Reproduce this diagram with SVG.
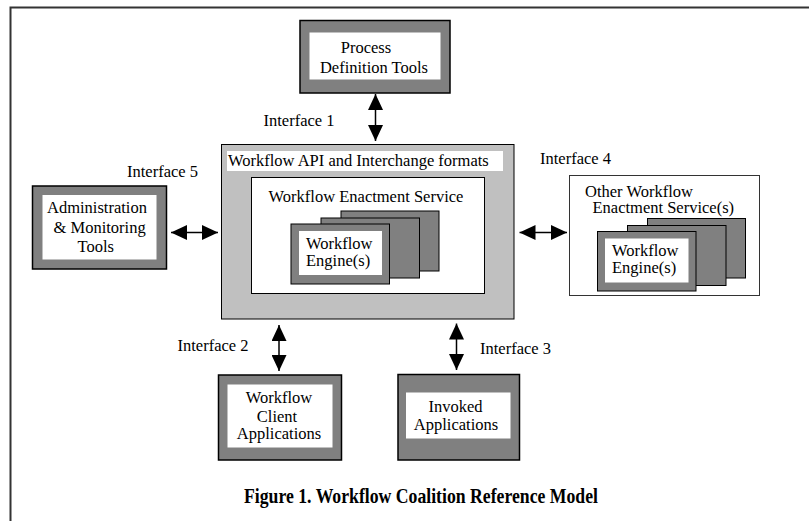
<svg xmlns="http://www.w3.org/2000/svg" width="809" height="521" viewBox="0 0 809 521">
<style>
text{font-family:"Liberation Serif","Times New Roman","DejaVu Serif",serif;font-size:16.5px;fill:#000}
.c{text-anchor:middle}
.tool{fill:#808080;stroke:#000;stroke-width:1.5}
.card{fill:#808080;stroke:#000;stroke-width:1}
.win{fill:#fff;stroke:none}
.conn{stroke:#000;stroke-width:1.5;fill:none;marker-start:url(#ah);marker-end:url(#ah)}
.cap{font-weight:bold;font-size:21px}
</style>
<defs>
<marker id="ah" markerUnits="userSpaceOnUse" viewBox="0 0 16 15" refX="16" refY="7.5" markerWidth="16" markerHeight="15" orient="auto-start-reverse">
<path d="M0,0 L16,7.5 L0,15 z" fill="#000"/>
</marker>
</defs>
<rect width="809" height="521" fill="#fff"/>
<rect id="frame" x="10.5" y="7.5" width="820" height="540" fill="none" stroke="#333" stroke-width="2"/>

<g id="process-definition-tools">
<rect class="tool" x="300" y="20.5" width="150" height="72.5"/>
<rect class="win" x="309.5" y="32.5" width="131" height="47"/>
<text class="c" x="366" y="53">Process</text>
<text class="c" x="374" y="73">Definition Tools</text>
</g>

<g id="workflow-api">
<rect x="221.5" y="144.5" width="292.5" height="174.5" fill="#c0c0c0" stroke="#000" stroke-width="1"/>
<rect class="win" x="227" y="151" width="276" height="20"/>
<text x="228" y="165.5">Workflow API and Interchange formats</text>
</g>

<g id="enactment-service">
<rect x="251.5" y="177.5" width="233" height="116" fill="#fff" stroke="#000" stroke-width="1"/>
<text class="c" x="366" y="202">Workflow Enactment Service</text>
</g>

<g id="workflow-engines">
<rect class="card" x="341" y="211" width="98" height="60"/>
<rect class="card" x="321" y="218" width="98.5" height="60"/>
<rect class="card" x="291" y="224" width="98.5" height="60"/>
<rect class="win" x="299" y="231" width="83" height="44"/>
<text x="306" y="249">Workflow</text>
<text x="306" y="265.5">Engine(s)</text>
</g>

<g id="administration-monitoring-tools">
<rect class="tool" x="32.5" y="186" width="134" height="83"/>
<rect class="win" x="42.5" y="195" width="114" height="64.5"/>
<text x="47" y="212.5">Administration</text>
<text x="53.5" y="232.5">&amp; Monitoring</text>
<text x="77.5" y="251.5">Tools</text>
</g>

<g id="other-enactment-service">
<rect x="569.5" y="175.5" width="190" height="120" fill="#fff" stroke="#333" stroke-width="1"/>
<text x="585" y="196.5">Other Workflow</text>
<text x="592.5" y="212.5">Enactment Service(s)</text>
<rect class="card" x="647.5" y="218.5" width="98" height="59.5"/>
<rect class="card" x="627.5" y="225.5" width="98.5" height="60"/>
<rect class="card" x="597.5" y="231.5" width="98.5" height="59.5"/>
<rect class="win" x="605" y="238.5" width="83.5" height="44"/>
<text x="612" y="256">Workflow</text>
<text x="612" y="273">Engine(s)</text>
</g>

<g id="workflow-client-applications">
<rect class="tool" x="218.5" y="375" width="123" height="85"/>
<rect class="win" x="227.5" y="384.5" width="105" height="63"/>
<text class="c" x="279" y="402.5">Workflow</text>
<text class="c" x="277" y="421.5">Client</text>
<text class="c" x="279" y="439">Applications</text>
</g>

<g id="invoked-applications">
<rect class="tool" x="398" y="374.5" width="121.5" height="85.5"/>
<rect class="win" x="406" y="392.5" width="104.5" height="46"/>
<text class="c" x="455.5" y="412">Invoked</text>
<text class="c" x="456" y="430">Applications</text>
</g>

<g id="connectors">
<line class="conn" x1="375.5" y1="94" x2="375.5" y2="141"/>
<line class="conn" x1="171" y1="232.5" x2="218" y2="232.5"/>
<line class="conn" x1="519.5" y1="232.5" x2="567" y2="232.5"/>
<line class="conn" x1="279" y1="325" x2="279" y2="371"/>
<line class="conn" x1="456.5" y1="323.5" x2="456.5" y2="370"/>
</g>

<g id="labels">
<text x="263.5" y="126">Interface 1</text>
<text x="127" y="176.5">Interface 5</text>
<text x="540" y="164">Interface 4</text>
<text x="177.5" y="351">Interface 2</text>
<text x="480" y="353.5">Interface 3</text>
<text class="cap" x="244" y="503" textLength="354" lengthAdjust="spacingAndGlyphs">Figure 1. Workflow Coalition Reference  Model</text>
</g>
</svg>
